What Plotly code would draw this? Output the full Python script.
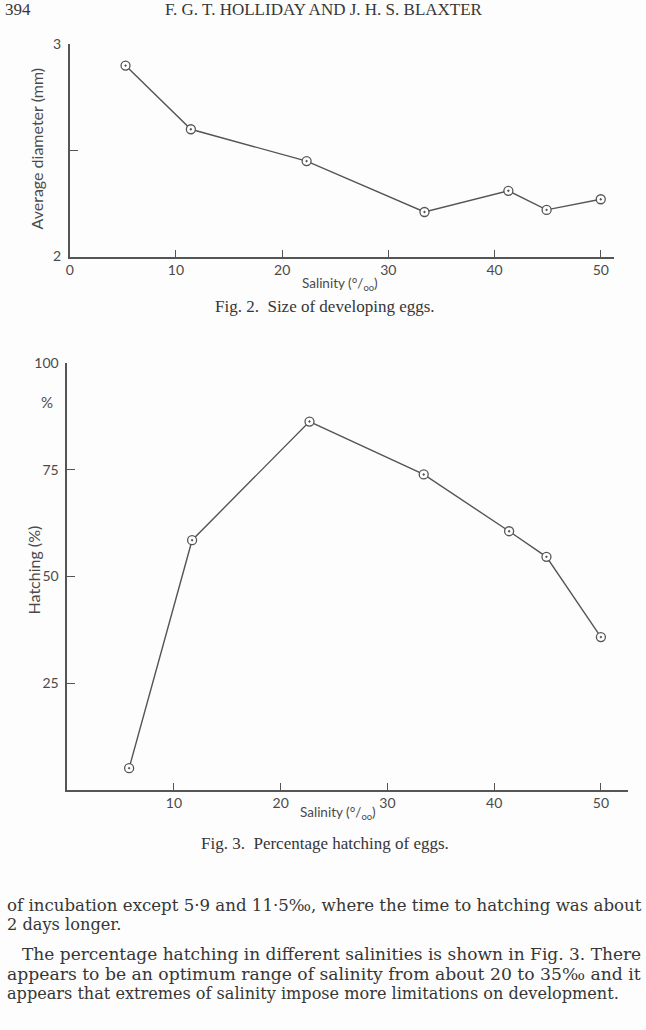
import plotly.graph_objects as go

W, H = 646, 1030

# ---- Fig. 2: size of developing eggs ----
fig2_salinity = [5.25, 11.4, 22.3, 33.4, 41.3, 44.9, 50.0]
fig2_diameter = [2.90, 2.60, 2.45, 2.21, 2.31, 2.22, 2.27]
fig2_xticks = [0, 10, 20, 30, 40, 50]
fig2_yticks = [2, 2.5, 3]
fig2_yticktext = ["2", "", "3"]

# ---- Fig. 3: percentage hatching ----
fig3_salinity = [5.8, 11.7, 22.7, 33.4, 41.4, 44.9, 50.0]
fig3_hatching = [5.1, 58.5, 86.3, 73.9, 60.6, 54.6, 35.8]
fig3_xticks = [10, 20, 30, 40, 50]
fig3_yticks = [25, 50, 75, 100]

header_page = "394"
header_title = "F. G. T. HOLLIDAY AND J. H. S. BLAXTER"
caption2 = "Fig. 2.  Size of developing eggs."
caption3 = "Fig. 3.  Percentage hatching of eggs."
body_lines = [
    "of incubation except 5·9 and 11·5‰, where the time to hatching was about",
    "2 days longer.",
    "The percentage hatching in different salinities is shown in Fig. 3. There",
    "appears to be an optimum range of salinity from about 20 to 35‰ and it",
    "appears that extremes of salinity impose more limitations on development.",
]

LINE = "#555555"
TXT = "#363636"
TICK = "#4a4a4a"
SANS = "Lato, 'Open Sans', sans-serif"
SERIF = "'Liberation Serif', 'DejaVu Serif', serif"
BODY = "'DejaVu Serif', serif"


def px(x):
    return x / W


def py(y):
    return 1 - y / H


marker = dict(symbol="circle-dot", size=9, color="white",
              line=dict(color=LINE, width=1.3))

fig = go.Figure()
fig.add_trace(go.Scatter(x=fig2_salinity, y=fig2_diameter, mode="lines+markers",
                         line=dict(color=LINE, width=1.4), marker=marker,
                         xaxis="x", yaxis="y", cliponaxis=False, showlegend=False))
fig.add_trace(go.Scatter(x=fig3_salinity, y=fig3_hatching, mode="lines+markers",
                         line=dict(color=LINE, width=1.4), marker=marker,
                         xaxis="x2", yaxis="y2", cliponaxis=False, showlegend=False))

axis_common = dict(showline=True, linecolor=LINE, linewidth=1.5, ticks="inside",
                   tickcolor=LINE, tickwidth=1.4, showgrid=False, zeroline=False,
                   tickfont=dict(family=SANS, size=14, color=TICK), fixedrange=True)

fig.update_layout(
    width=W, height=H, autosize=False,
    margin=dict(l=0, r=0, t=0, b=0),
    paper_bgcolor="#fdfdfd", plot_bgcolor="rgba(0,0,0,0)",
    xaxis=dict(axis_common, domain=[px(66.2), px(613.3)], range=[0, 51.2],
               tickvals=fig2_xticks, ticklen=7, anchor="y"),
    yaxis=dict(axis_common, domain=[py(251.7), py(36)], range=[2, 3],
               tickvals=fig2_yticks, ticktext=fig2_yticktext, ticklen=8,
               anchor="x", ticklabelstandoff=4),
    xaxis2=dict(axis_common, domain=[px(63.6), px(628)], range=[0, 52.55],
                tickvals=fig3_xticks, ticklen=7, anchor="y2"),
    yaxis2=dict(axis_common, domain=[py(794), py(360)], range=[0, 100],
                tickvals=fig3_yticks, ticklen=8, anchor="x2", ticklabelstandoff=4),
)

anns = []


def ann(text, x, y, size, family, xanchor="center", yanchor="middle",
        color=TXT, angle=0):
    anns.append(dict(text=text, x=px(x), y=py(y), xref="paper", yref="paper",
                     showarrow=False, xanchor=xanchor, yanchor=yanchor,
                     textangle=angle, borderpad=0,
                     font=dict(size=size, family=family, color=color)))


# header (running head at the very top of the page)
ann(header_page, 0, 1, 17, SERIF, xanchor="left")
ann(header_title, 322, 1, 17, SERIF)

# axis titles
ann("Average diameter (mm)", 33, 142, 16, SANS, angle=-90, color=TICK)
ann("Salinity (°/<sub>oo</sub>)", 338, 280, 13.5, SANS, color=TICK)
ann("Hatching (%)", 30, 570, 16, SANS, angle=-90, color=TICK)
ann("%", 43, 400, 15, SANS, color=TICK)
ann("Salinity (°/<sub>oo</sub>)", 336, 817, 13.5, SANS, color=TICK)

# captions
ann(caption2, 323, 303, 17, SERIF)
ann(caption3, 323, 849, 17, SERIF)

# body text
body_y = [912, 931, 961, 981, 1001]
body_x = [2, 2, 17, 2, 2]
body_size = [16.6, 16.2, 17.0, 17.2, 16.1]
for t, yy, xx, fs in zip(body_lines, body_y, body_x, body_size):
    ann(t, xx, yy, fs, BODY, xanchor="left")

fig.update_layout(annotations=anns)
fig.write_html("out.html", config={"displayModeBar": False})
